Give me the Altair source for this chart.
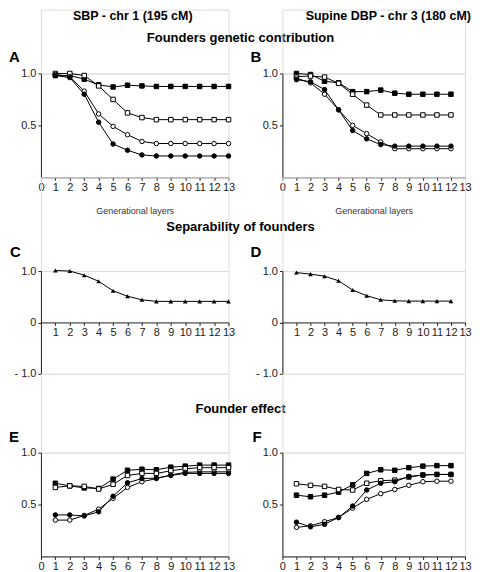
import altair as alt
import pandas as pd

# ---------------- data ----------------
layers13 = list(range(1, 14))
layers12 = list(range(1, 13))
series_ids = ["fsq", "osq", "oci", "fci"]

# Panel A: founders genetic contribution, SBP chr 1
A_fsq = [0.98, 0.98, 0.945, 0.89, 0.87, 0.887, 0.88, 0.875, 0.875, 0.875, 0.875, 0.875, 0.875]
A_osq = [1.0, 1.0, 0.98, 0.88, 0.75, 0.62, 0.575, 0.555, 0.555, 0.555, 0.555, 0.555, 0.555]
A_oci = [0.99, 0.97, 0.83, 0.61, 0.49, 0.41, 0.345, 0.325, 0.325, 0.325, 0.325, 0.325, 0.325]
A_fci = [0.98, 0.96, 0.80, 0.53, 0.32, 0.26, 0.215, 0.205, 0.205, 0.205, 0.205, 0.205, 0.205]

# Panel B: founders genetic contribution, supine DBP chr 3
B_fsq = [1.0, 0.99, 0.925, 0.91, 0.825, 0.825, 0.84, 0.81, 0.80, 0.80, 0.80, 0.80]
B_osq = [0.97, 0.975, 0.965, 0.905, 0.80, 0.695, 0.60, 0.60, 0.60, 0.60, 0.60, 0.60]
B_oci = [0.955, 0.91, 0.80, 0.65, 0.50, 0.42, 0.34, 0.275, 0.275, 0.275, 0.275, 0.275]
B_fci = [0.94, 0.92, 0.845, 0.65, 0.45, 0.37, 0.315, 0.30, 0.30, 0.30, 0.30, 0.30]

# Panels C, D: separability of founders
C_sep = [1.01, 1.0, 0.92, 0.80, 0.615, 0.51, 0.44, 0.41, 0.41, 0.41, 0.41, 0.41, 0.41]
D_sep = [0.97, 0.94, 0.90, 0.81, 0.63, 0.52, 0.44, 0.42, 0.415, 0.415, 0.415, 0.415]

# Panel E: founder effect, SBP
E_fsq = [0.705, 0.68, 0.66, 0.655, 0.745, 0.83, 0.84, 0.835, 0.86, 0.87, 0.88, 0.88, 0.88]
E_osq = [0.665, 0.68, 0.675, 0.65, 0.695, 0.78, 0.80, 0.80, 0.825, 0.845, 0.855, 0.855, 0.855]
E_oci = [0.35, 0.35, 0.395, 0.455, 0.56, 0.665, 0.72, 0.75, 0.785, 0.81, 0.815, 0.815, 0.815]
E_fci = [0.40, 0.40, 0.39, 0.43, 0.58, 0.71, 0.75, 0.755, 0.78, 0.80, 0.80, 0.80, 0.80]

# Panel F: founder effect, supine DBP
F_fsq = [0.59, 0.575, 0.59, 0.62, 0.69, 0.80, 0.835, 0.83, 0.855, 0.87, 0.875, 0.875]
F_osq = [0.70, 0.685, 0.675, 0.645, 0.64, 0.705, 0.73, 0.735, 0.765, 0.785, 0.79, 0.79]
F_oci = [0.28, 0.295, 0.335, 0.375, 0.465, 0.55, 0.605, 0.645, 0.685, 0.72, 0.725, 0.725]
F_fci = [0.33, 0.285, 0.31, 0.375, 0.485, 0.64, 0.705, 0.72, 0.77, 0.785, 0.79, 0.79]

col_headers = ["SBP - chr 1 (195 cM)", "Supine DBP - chr 3 (180 cM)"]
row_titles = ["Founders genetic contribution", "Separability of founders", "Founder effect"]
letters = ["A", "B", "C", "D", "E", "F"]
x_ticks13 = list(range(0, 14))
x_ticks_sep = list(range(1, 14))
xtitle = "Generational layers"

FONT = "Liberation Sans"
INK = "#222222"

SHAPE_MAP = {"fsq": "square", "osq": "square", "oci": "circle", "fci": "circle"}
FILL_MAP = {"fsq": "black", "osq": "white", "oci": "white", "fci": "black"}


def long_df(xs, cols, names):
    rows = []
    for name, vals in zip(names, cols):
        for x, v in zip(xs, vals):
            rows.append({"x": x, "y": v, "s": name})
    return pd.DataFrame(rows)


def panel(df, names, width, height, ydom, yvals, ylabel_expr, xvals, x_title=None, x_offset=0,
          tri=False):
    xkw = dict(values=xvals, grid=False, tickSize=3, labelPadding=1, labelFontSize=11,
               labelColor=INK, domainColor=INK, tickColor=INK, labelFont=FONT,
               offset=x_offset, labelFlush=False, labelOverlap=False)
    if x_title:
        xaxis = alt.Axis(title=x_title, titleFontSize=9, titleFontWeight="normal", titleFont=FONT,
                         titleColor="#333333", titlePadding=14, **xkw)
    else:
        xaxis = alt.Axis(title=None, **xkw)
    yaxis = alt.Axis(values=yvals, grid=False, tickSize=3, labelPadding=2, labelFontSize=11,
                     labelColor=INK, domainColor=INK, tickColor=INK, labelFont=FONT,
                     title=None, labelExpr=ylabel_expr, minExtent=30, maxExtent=30)
    x = alt.X("x:Q", scale=alt.Scale(domain=[0, 13], nice=False), axis=xaxis)
    y = alt.Y("y:Q", scale=alt.Scale(domain=ydom, nice=False, zero=False), axis=yaxis)
    base = alt.Chart(df)
    line = base.mark_line(color="black", strokeWidth=1).encode(x=x, y=y, detail="s:N")
    if tri:
        pts = base.mark_point(shape="triangle-up", filled=True, color="black", size=22,
                              opacity=1).encode(x=x, y=y)
    else:
        dom = list(names)
        pts = base.mark_point(filled=True, stroke="black", strokeWidth=1, size=20, opacity=1).encode(
            x=x, y=y,
            shape=alt.Shape("s:N", scale=alt.Scale(domain=dom, range=[SHAPE_MAP[d] for d in dom]), legend=None),
            fill=alt.Fill("s:N", scale=alt.Scale(domain=dom, range=[FILL_MAP[d] for d in dom]), legend=None),
        )
    return alt.layer(line, pts).properties(width=width, height=height)


def text_layer(txt, x, y, size, weight="bold", align="center", baseline="middle"):
    return alt.Chart(pd.DataFrame({"t": [txt]})).mark_text(
        font=FONT, fontSize=size, fontWeight=weight, align=align, baseline=baseline, color="black"
    ).encode(text="t:N", x=alt.value(x), y=alt.value(y))


def cell(width, height, items):
    return alt.layer(*items).properties(width=width, height=height)


yexpr_pos = "format(datum.value, '.1f')"
yexpr_sep = "datum.value == 0 ? '0' : (datum.value > 0 ? '1.0' : '- 1.0')"

dfA = long_df(layers13, [A_fsq, A_osq, A_oci, A_fci], series_ids)
dfB = long_df(layers12, [B_fsq, B_osq, B_oci, B_fci], series_ids)
dfC = long_df(layers13, [C_sep], ["tri"])
dfD = long_df(layers12, [D_sep], ["tri"])
dfE = long_df(layers13, [E_fsq, E_osq, E_oci, E_fci], series_ids)
dfF = long_df(layers12, [F_fsq, F_osq, F_oci, F_fci], series_ids)

LW, RW, GAP = 188, 183, 54

pA = panel(dfA, series_ids, LW, 104, [0, 1], [0.5, 1.0], yexpr_pos, x_ticks13, x_title=xtitle)
pB = panel(dfB, series_ids, RW, 104, [0, 1], [0.5, 1.0], yexpr_pos, x_ticks13, x_title=xtitle)
pC = panel(dfC, ["tri"], LW, 103, [-1, 1], [-1, 0, 1], yexpr_sep, x_ticks_sep, x_offset=-51.5, tri=True)
pD = panel(dfD, ["tri"], RW, 103, [-1, 1], [-1, 0, 1], yexpr_sep, x_ticks_sep, x_offset=-51.5, tri=True)
pE = panel(dfE, series_ids, LW, 104, [0, 1], [0.5, 1.0], yexpr_pos, x_ticks13)
pF = panel(dfF, series_ids, RW, 104, [0, 1], [0.5, 1.0], yexpr_pos, x_ticks13)

# header cells: left column origin = page x 40, right column origin = page x 282
h1L = cell(LW, 64, [
    text_layer(col_headers[0], 92, 0, 12.5, baseline="top"),
    text_layer(row_titles[0], 200, 28, 13),
    text_layer(letters[0], -32, 48, 15, align="left"),
])
h1R = cell(RW, 64, [
    text_layer(col_headers[1], 189, 0, 12.5, align="right", baseline="top"),
    text_layer(letters[1], -32, 48, 15, align="left"),
])
h2L = cell(LW, 94, [
    text_layer(row_titles[1], 200, 50, 13),
    text_layer(letters[2], -31, 75, 15, align="left"),
])
h2R = cell(RW, 94, [
    text_layer(letters[3], -32, 75, 15, align="left"),
])
h3L = cell(LW, 79, [
    text_layer(row_titles[2], 200, 35, 13),
    text_layer(letters[4], -32, 63, 15, align="left"),
])
h3R = cell(RW, 79, [
    text_layer(letters[5], -30, 63, 15, align="left"),
])

chart = alt.concat(
    h1L, h1R, pA, pB, h2L, h2R, pC, pD, h3L, h3R, pE, pF,
    columns=2, spacing={"row": 0, "column": GAP}, bounds="flush"
).properties(padding=0).configure_view(strokeWidth=0).configure(background="white")

chart.save("out.html", embed_options={"renderer": "svg", "actions": False})
